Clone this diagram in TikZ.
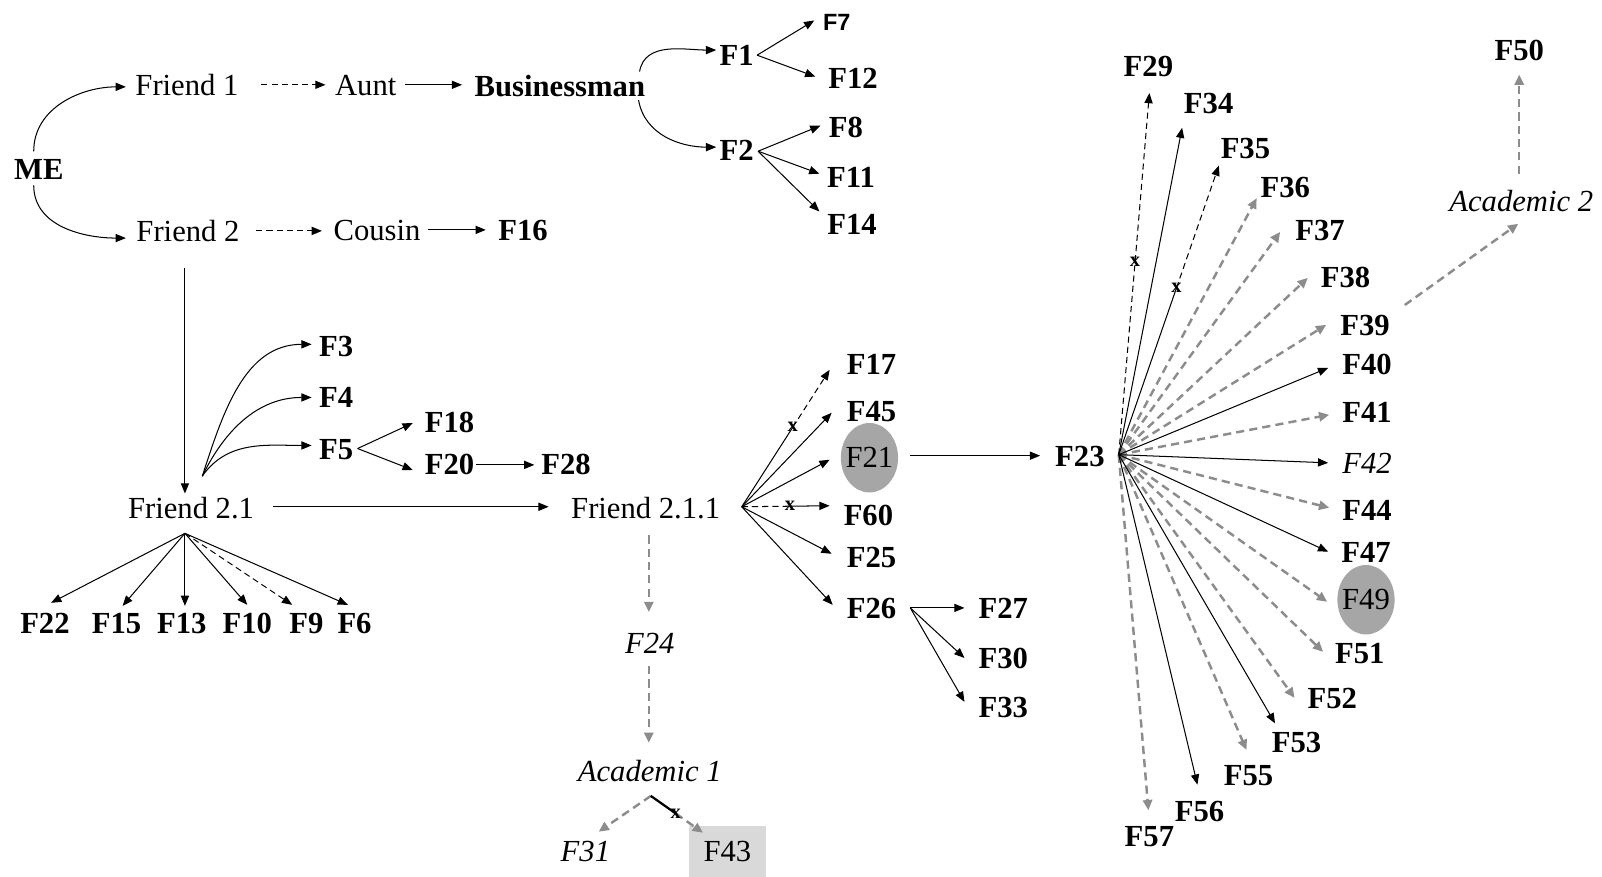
\documentclass[tikz,border=0pt]{standalone}
\usepackage{fontspec}
\setmainfont{Liberation Serif}
\newfontfamily\arialf{Liberation Sans}
\usetikzlibrary{arrows.meta,shapes.geometric,calc}
\definecolor{gline}{RGB}{140,140,140}
\definecolor{gfill}{RGB}{166,166,166}
\definecolor{gbox}{RGB}{217,217,217}
\begin{document}
\begin{tikzpicture}[x=0.5pt,y=-0.5pt,
  lbl/.style={font=\fontsize{15}{18}\selectfont, inner sep=2pt, text height=10pt, text depth=0pt},
  bl/.style={lbl, font=\fontsize{15}{18}\selectfont\bfseries},
  itl/.style={lbl, font=\fontsize{15}{18}\selectfont\itshape},
  ell/.style={lbl, ellipse, fill=gfill, inner xsep=-6pt, inner ysep=0pt, minimum width=28pt, minimum height=34pt},
  sline/.style={draw=black, line width=0.5pt},
  arr/.style={sline, -{Triangle[length=5pt,width=4pt]}},
  dline/.style={sline, dash pattern=on 3pt off 2pt},
  darr/.style={arr, dash pattern=on 3pt off 2pt},
  garr/.style={draw=gline, line width=1.2pt, dash pattern=on 4pt off 2.5pt, -{Triangle[length=5pt,width=4.5pt]}},
  xm/.style={font=\fontsize{10}{10}\selectfont\bfseries, inner sep=0pt, text height=4.5pt, text depth=0pt}
]
\useasboundingbox (0,0) rectangle (1568,858);

% ---------- top part ----------
\node[bl] (ME) at (38,166) {ME};
\node[lbl] (fr1) at (183,83) {Friend 1};
\node[lbl] (aunt) at (358,83) {Aunt};
\node[bl] (bus) at (548,84) {Businessman};
\node[lbl] (fr2) at (184,226) {Friend 2};
\node[lbl] (cousin) at (369,225) {Cousin};
\node[bl] (F16) at (512,225) {F16};
\node[bl] (F1) at (721,54) {F1};
\node[lbl, font=\fontsize{11.5}{13}\selectfont\arialf\bfseries] (F7) at (819,20) {F7};
\node[bl] (F12) at (835,77) {F12};
\node[bl] (F2) at (721,147) {F2};
\node[bl] (F8) at (828,125) {F8};
\node[bl] (F11) at (833,174) {F11};
\node[bl] (F14) at (834,220) {F14};

\draw[arr] ([shift={(-5,-3.5)}]ME.north) to[out=90,in=180] ([shift={(-5,2)}]fr1.west);
\draw[arr] ([shift={(-5,1)}]ME.south) to[out=-90,in=180] ([shift={(-6,7)}]fr2.west);
\draw[darr, shorten <=9pt, shorten >=2.5pt] (fr1.east) -- (fr1.east -| aunt.west);
\draw[arr, shorten <=2pt, shorten >=4pt] (aunt.east) -- (aunt.east -| bus.west);
\draw[darr, shorten <=6pt, shorten >=3.5pt] (fr2.east) -- (fr2.east -| cousin.west);
\draw[arr, shorten <=1.5pt, shorten >=4pt] (cousin.east) -- (cousin.east -| F16.west);

\draw[arr] ([shift={(78,-14)}]bus.center) to[out=80,in=180] ([shift={(-20,-5)}]F1.center);
\draw[arr] ([shift={(77,14)}]bus.center) to[out=-80,in=180] ([shift={(-20,-3)}]F2.center);

\coordinate (oF1) at ([shift={(20,0)}]F1.center);
\draw[arr] (oF1) -- ([shift={(-22,0)}]F7.center);
\draw[arr] (oF1) -- ([shift={(-37,-2)}]F12.center);
\coordinate (oF2) at ([shift={(21,1)}]F2.center);
\draw[arr] (oF2) -- ([shift={(-25,-2)}]F8.center);
\draw[arr] (oF2) -- ([shift={(-31,-4)}]F11.center);
\draw[arr] (oF2) -- ([shift={(-32,-13)}]F14.center);

% ---------- Friend 2.1 ----------
\node[lbl] (fr21) at (187,497) {Friend 2.1};
\draw[arr] ([shift={(-3,36)}]fr2.center) -- ([shift={(-6,-14)}]fr21.center);

\node[bl] (F3) at (329,339) {F3};
\node[bl] (F4) at (329,389) {F4};
\node[bl] (F5) at (329,440) {F5};
\coordinate (oup) at ([shift={(11,-31)}]fr21.center);
\draw[arr] (oup) to[out=72,in=180] ([shift={(-24,-2)}]F3.center);
\draw[arr] (oup) to[out=64,in=180] ([shift={(-24,0)}]F4.center);
\draw[arr] (oup) to[out=55,in=180] ([shift={(-24,-4)}]F5.center);

\node[bl] (F18) at (440,413) {F18};
\node[bl] (F20) at (440,454) {F20};
\node[bl] (F28) at (554,454) {F28};
\coordinate (oF5) at ([shift={(21,-1)}]F5.center);
\draw[arr] (oF5) -- ([shift={(-36,1)}]F18.center);
\draw[arr] (oF5) -- ([shift={(-36,6)}]F20.center);
\draw[arr] ([shift={(26,1)}]F20.center) -- ([shift={(-31,1)}]F28.center);

\node[lbl] (fr211) at (632,497) {Friend 2.1.1};
\draw[arr] ([shift={(80,-1)}]fr21.center) -- ([shift={(-95,-1)}]fr211.center);

\node[bl] (F22) at (44,610) {F22};
\node[bl] (F15) at (114,610) {F15};
\node[bl] (F13) at (178,610) {F13};
\node[bl] (F10) at (242,610) {F10};
\node[bl] (F9) at (300,610) {F9};
\node[bl] (F6) at (347,610) {F6};
\coordinate (odown) at ([shift={(-6,25)}]fr21.center);
\draw[arr] (odown) -- ([shift={(6,-20)}]F22.center);
\draw[arr] (odown) -- ([shift={(6,-17)}]F15.center);
\draw[arr] (odown) -- ([shift={(3,-17)}]F13.center);
\draw[arr] (odown) -- ([shift={(0,-18)}]F10.center);
\draw[darr] (odown) -- ([shift={(-14,-18)}]F9.center);
\draw[arr] (odown) -- ([shift={(-6.5,-18)}]F6.center);

% ---------- Friend 2.1.1 fan ----------
\node[bl] (F17) at (853,357) {F17};
\node[bl] (F45) at (853,403) {F45};
\node[ell] (F21) at (851,448) {F21};
\node[bl] (F60) at (850,504) {F60};
\node[bl] (F25) at (853,545) {F25};
\node[bl] (F26) at (853,595) {F26};
\coordinate (o211) at ([shift={(94,-1)}]fr211.center);
\coordinate (t17) at ([shift={(-41,5)}]F17.center);
\coordinate (x17) at ($(o211)!0.58!(t17)$);
\draw[sline] (o211) -- (x17);
\draw[darr] (x17) -- (t17);
\node[xm] at (x17) {x};
\draw[arr] (o211) -- ([shift={(-39,1)}]F45.center);
\draw[arr] (o211) -- ([shift={(-39,2)}]F21.center);
\coordinate (t60) at ([shift={(-38,-9)}]F60.center);
\coordinate (x60) at ($(o211)!0.55!(t60)$);
\draw[dline] (o211) -- (x60);
\draw[arr] (x60) -- (t60);
\node[xm] at (x60) {x};
\draw[arr] (o211) -- ([shift={(-39,-3)}]F25.center);
\draw[arr] (o211) -- ([shift={(-38,-3)}]F26.center);

\node[bl] (F27) at (982,595) {F27};
\node[bl] (F30) at (982,644) {F30};
\node[bl] (F33) at (982,692) {F33};
\coordinate (o26) at ([shift={(38,0)}]F26.center);
\draw[arr] (o26) -- ([shift={(-38,0)}]F27.center);
\draw[arr] (o26) -- ([shift={(-38,0)}]F30.center);
\draw[arr] (o26) -- ([shift={(-38,-5)}]F33.center);

% ---------- F24 / Academic 1 ----------
\node[itl] (F24) at (636,630) {F24};
\node[itl] (ac1) at (636,755) {Academic 1};
\node[itl] (F31) at (573,833) {F31};
\node[lbl, fill=gbox, minimum width=38pt, minimum height=25pt] (F43) at (712,833) {F43};
\draw[garr] ([shift={(3,27)}]fr211.center) -- ([shift={(-1,-31)}]F24.center);
\draw[garr] ([shift={(-1,22)}]F24.center) -- ([shift={(-1,-28)}]ac1.center);
\coordinate (oac1) at ([shift={(1,24)}]ac1.center);
\draw[garr] (oac1) -- ([shift={(13,-19)}]F31.center);
\coordinate (t43) at ([shift={(-24,-18)}]F43.center);
\coordinate (x43) at ($(oac1)!0.48!(t43)$);
\draw[black, line width=1.1pt] (oac1) -- (x43);
\draw[garr] (x43) -- (t43);
\node[xm] at (x43) {x};

% ---------- F23 fan ----------
\node[bl] (F23) at (1057,447) {F23};
\draw[arr] ([shift={(40,-2)}]F21.center) -- ([shift={(-39,-1)}]F23.center);
\coordinate (o23) at ([shift={(38,-2)}]F23.center);

\foreach \n/\px/\py in {29/1124/65, 34/1183/101, 35/1219/145, 36/1258/183, 37/1292/225,
  38/1317/271, 39/1336/318, 40/1338/357, 41/1338/404, 44/1338/499, 47/1337/541,
  51/1331/639, 52/1304/683, 53/1269/727, 55/1222/759, 56/1174/794, 57/1125/819}
  \node[bl] (F\n) at (\px,\py) {F\n};
\node[itl] (F42) at (1338,453) {F42};
\node[ell] (F49) at (1337,587) {F49};

\foreach \n/\dx/\dy in {36/-28/11, 37/-39/2, 38/-37/1, 39/-38/0, 41/-37/2, 44/-37/-2,
  49/-38/2, 51/-36/-1, 52/-37/0, 55/-2/-25, 57/-1/-26}
  \draw[garr] (o23) -- ([shift={(\dx,\dy)}]F\n.center);
\foreach \n/\dx/\dy in {34/-26/24, 40/-38/3, 42/-38/0, 47/-37/-1, 53/-21/-19, 56/-2/-26}
  \draw[arr] (o23) -- ([shift={(\dx,\dy)}]F\n.center);

\coordinate (t29) at ([shift={(1,26)}]F29.center);
\coordinate (x29) at ($(o23)!0.532!(t29)$);
\draw[darr] (o23) -- (t29);
\node[xm] at (x29) {x};
\coordinate (t35) at ([shift={(-26,17)}]F35.center);
\coordinate (x35) at ($(o23)!0.576!(t35)$);
\draw[sline] (o23) -- (x35);
\draw[darr] (x35) -- (t35);
\node[xm] at (x35) {x};

% ---------- Academic 2 ----------
\node[itl] (ac2) at (1489,197) {Academic 2};
\node[bl] (F50) at (1487,49) {F50};
\draw[garr] ([shift={(39,-19.5)}]F39.center) -- ([shift={(-3,22)}]ac2.center);
\draw[garr] ([shift={(-2,-27)}]ac2.center) -- ([shift={(0,24)}]F50.center);
\end{tikzpicture}
\end{document}
